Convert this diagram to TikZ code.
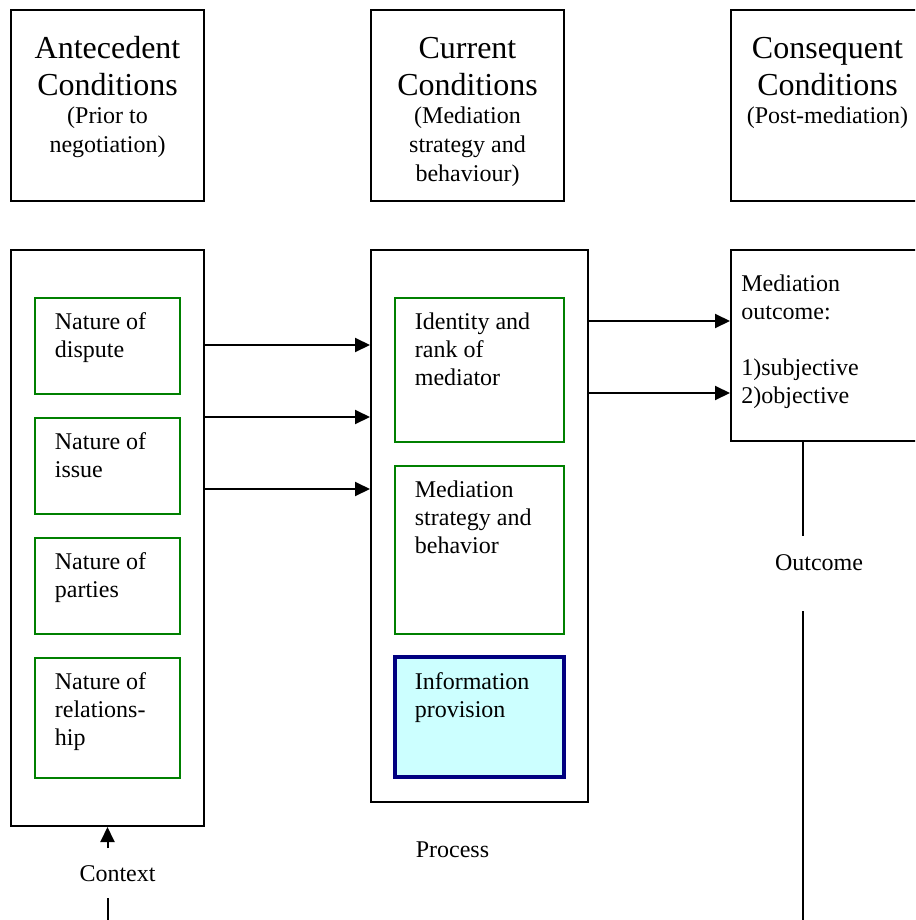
\documentclass[tikz,border=0pt]{standalone}
\usepackage{fontspec}
\setmainfont{Liberation Serif}
\usetikzlibrary{positioning,calc,arrows.meta}

\begin{document}
\begin{tikzpicture}[
    x=0.5pt, y=-0.5pt,
    font=\fontsize{12}{14}\selectfont,
    frame/.style={rectangle, draw=black, line width=1pt, inner sep=0pt},
    item/.style={rectangle, draw=itemgreen, line width=1pt, inner sep=0pt},
    info/.style={rectangle, draw=infonavy, fill=infofill, line width=1.6pt, inner sep=0pt},
    txt/.style={anchor=base west, align=left, inner sep=0pt},
    title/.style={anchor=base, align=center, inner sep=0pt, font=\fontsize{16}{18.75}\selectfont},
    sub/.style={anchor=base, align=center, inner sep=0pt, font=\fontsize{12}{14.25}\selectfont},
    arr/.style={line width=1pt, -{Triangle[length=7.5pt, width=7pt]}},
    line/.style={line width=1pt}
]
\definecolor{itemgreen}{RGB}{0,128,0}
\definecolor{infonavy}{RGB}{0,0,128}
\definecolor{infofill}{RGB}{204,255,255}

\useasboundingbox (0,0) rectangle (915,920);
\clip (0,0) rectangle (915,920);

\node[frame, minimum width=96.5pt, minimum height=95.5pt] (hante) at (107.5,105.5) {};
\node[frame, minimum width=96.5pt, minimum height=95.5pt] (hcurr) at (467.5,105.5) {};
\node[frame, minimum width=96.5pt, minimum height=95.5pt] (hcons) at (827.5,105.5) {};

\node[title] (tante) at ($(hante.north)+(0,86.7)$) {Antecedent\\Conditions};
\node[sub] (sante) at ($(hante.north)+(0,143.5)$) {(Prior to\\negotiation)};
\node[title] (tcurr) at ($(hcurr.north)+(0,86.7)$) {Current\\Conditions};
\node[sub] (scurr) at ($(hcurr.north)+(0,172)$) {(Mediation\\strategy and\\behaviour)};
\node[title] (tcons) at ($(hcons.north)+(0,86.7)$) {Consequent\\Conditions};
\node[sub] (scons) at ($(hcons.north)+(0,115)$) {(Post-mediation)};

\node[frame, minimum width=96.5pt, minimum height=288pt] (ante) at (107.5,538) {};
\node[frame, minimum width=108.5pt, minimum height=276pt] (curr) at (479.5,526) {};
\node[frame, minimum width=96.5pt, minimum height=95.5pt] (outc) at (827.5,345.5) {};

\node[item, minimum width=72.5pt, minimum height=48pt] (dispute) at (107.5,346) {};
\node[item, minimum width=72.5pt, minimum height=48pt] (issue) at (107.5,466) {};
\node[item, minimum width=72.5pt, minimum height=48pt] (parties) at (107.5,586) {};
\node[item, minimum width=72.5pt, minimum height=60pt] (relation) at (107.5,718) {};

\node[item, minimum width=84.5pt, minimum height=72pt] (identity) at (479.5,370) {};
\node[item, minimum width=84.5pt, minimum height=84pt] (strategy) at (479.5,550) {};
\node[info, minimum width=84.5pt, minimum height=60pt] (provision) at (479.5,717) {};

\node[txt] at ($(dispute.north west)+(20.5,60)$) {Nature of\\dispute};
\node[txt] at ($(issue.north west)+(20.5,60)$) {Nature of\\issue};
\node[txt] at ($(parties.north west)+(20.5,60)$) {Nature of\\parties};
\node[txt] at ($(relation.north west)+(20.5,88)$) {Nature of\\relations-\\hip};
\node[txt] at ($(identity.north west)+(20.5,88)$) {Identity and\\rank of\\mediator};
\node[txt] at ($(strategy.north west)+(20.5,88)$) {Mediation\\strategy and\\behavior};
\node[txt] at ($(provision.north west)+(21,62.5)$) {Information\\provision};
\node[txt] at ($(outc.north west)+(11,154)$) {Mediation\\outcome:\\[14pt]1)subjective\\2)objective};

\draw[arr] (ante.north east) ++(0,96) coordinate (a1) -- (a1 -| curr.west);
\draw[arr] (ante.north east) ++(0,168) coordinate (a2) -- (a2 -| curr.west);
\draw[arr] (ante.north east) ++(0,240) coordinate (a3) -- (a3 -| curr.west);
\draw[arr] (curr.north east) ++(0,72) coordinate (b1) -- (b1 -| outc.west);
\draw[arr] (curr.north east) ++(0,144) coordinate (b2) -- (b2 -| outc.west);

\node[anchor=base] (outcome) at (819,570) {Outcome};
\coordinate (otop) at (803,536);
\coordinate (obot) at (803,611);
\draw[line] (otop |- outc.south) -- (otop);
\draw[line] (obot) -- (obot |- 0,925);

\node[anchor=base] (context) at (117.5,881.5) {Context};
\coordinate (ctop) at (107.5,848);
\coordinate (cbot) at (107.5,898);
\draw[arr] (ctop) -- (ante.south);
\draw[line] (cbot) -- (cbot |- 0,925);

\node[anchor=base] (process) at (452.5,857) {Process};
\end{tikzpicture}
\end{document}
